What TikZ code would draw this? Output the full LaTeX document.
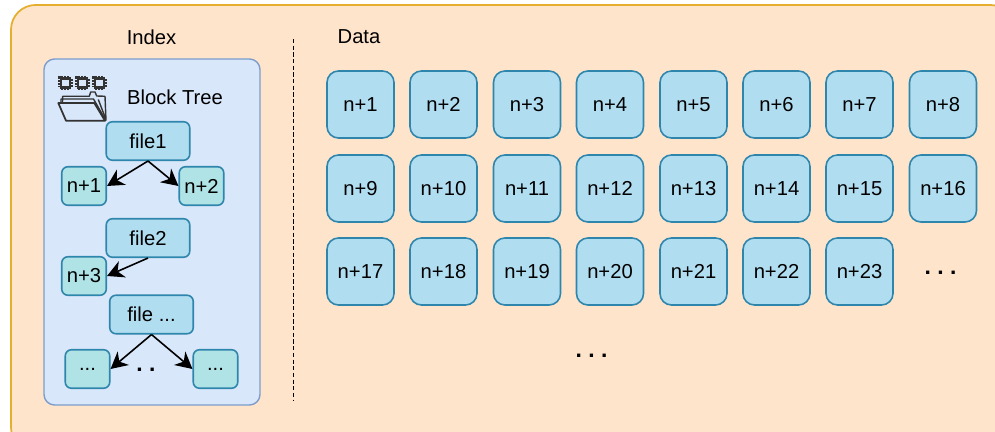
\documentclass[tikz,border=0pt]{standalone}
\usepackage{fontspec}
\usepackage{xcolor}
\setmainfont{Liberation Sans}
\usetikzlibrary{arrows.meta}
\definecolor{outerfill}{HTML}{FFE4CC}
\definecolor{outerline}{HTML}{E6AE2E}
\definecolor{panelfill}{HTML}{D9E7FB}
\definecolor{panelline}{HTML}{7C9CCB}
\definecolor{blockfill}{HTML}{B1DDF1}
\definecolor{blockline}{HTML}{2F86AC}
\definecolor{leaffill}{HTML}{B0E3E6}
\definecolor{iconline}{HTML}{333333}
\frenchspacing
\tikzset{
    txt/.style={font=\fontsize{11.5}{13}\selectfont, inner sep=0pt},
    datablock/.style={txt, draw=blockline, fill=blockfill, line width=0.9pt, rounded corners=6.5pt, minimum width=1.34cm, minimum height=1.34cm},
    filenode/.style={txt, draw=blockline, fill=blockfill, line width=0.9pt, rounded corners=3.5pt, minimum width=1.67cm, minimum height=0.77cm},
    leafnode/.style={txt, draw=blockline, fill=leaffill, line width=0.9pt, rounded corners=3.5pt, minimum width=0.89cm, minimum height=0.77cm},
    dots/.style={font=\bfseries\fontsize{13}{15}\selectfont, inner sep=0pt},
    link/.style={draw=black, line width=0.9pt, -{Stealth[length=9.5pt,width=10pt,inset=3pt]}},
    icon/.style={draw=iconline, line width=0.8pt, line join=round},
    chip/.style={draw=iconline, fill=panelfill, line width=1.2pt, minimum size=0.18cm, inner sep=0pt, preaction={draw=iconline, line width=3.2pt, dash pattern=on 1pt off 0.8pt}}
}
\begin{document}
\begin{tikzpicture}
                \useasboundingbox (0,0) rectangle (19.9,8.64);
                \path [draw=outerline, fill=outerfill, line width=1pt, rounded corners=14pt] (0.22,-0.4) rectangle (20.3,8.54);
                \path [draw=panelline, fill=panelfill, line width=0.8pt, rounded corners=6pt] (0.88,0.54) rectangle (5.2,7.46);
                \node [txt] (indexlabel) at (3.03,7.9) {Index};
                \node [txt] (datalabel) at (7.18,7.9) {Data};
                \node [txt] (treelabel) at (3.5,6.7) {Block Tree};
                \coordinate (sepTop) at (5.87,7.86);
                \coordinate (sepBot) at (5.87,0.62);
                \draw [black, line width=1.1pt, dash pattern=on 2.4pt off 1.4pt] (sepTop) -- (sepBot);
                \node [chip] (chipa) at (1.31,6.98) {};
                \node [chip] (chipb) at (1.65,6.98) {};
                \node [chip] (chipc) at (1.99,6.98) {};
                \draw [icon] (1.25,6.6) -- (1.254,6.714) -- (1.786,6.714) -- (1.814,6.8) -- (1.9,6.8) -- (1.934,6.72) -- (2.1,6.714) -- (2.12,6.226);
                \draw [icon] (1.22,6.58) -- (1.22,6.66) -- (1.87,6.66) -- (2.1,6.26);
                \draw [icon] (1.966,6.65) -- (2.1,6.3);
                \draw [icon, line width=1pt] (1.166,6.58) -- (1.886,6.58) -- (2.1,6.226) -- (1.32,6.226) -- cycle;
                \node [filenode] (file1) at (2.96,5.82) {file1};
                \node [leafnode] (n1) at (1.68,4.92) {n+1};
                \node [leafnode] (n2) at (4.03,4.92) {n+2};
                \node [filenode] (file2) at (2.96,3.88) {file2};
                \node [leafnode] (n3) at (1.68,3.12) {n+3};
                \node [filenode] (fileN) at (3.03,2.35) {file ...};
                \node [leafnode] (leafa) at (1.75,1.26) {...};
                \node [leafnode] (leafb) at (4.31,1.26) {...};
                \node [dots] (treedots) at (2.92,1.24) {. .};
                \draw [link] (file1.south) -- (n1.east);
                \draw [link] (file1.south) -- (n2.west);
                \draw [link] (file2.south) -- (n3.east);
                \draw [link] (fileN.south) -- (leafa.east);
                \draw [link] (fileN.south) -- (leafb.west);
                \node [datablock] (d1) at (7.21,6.55) {n+1};
                \node [datablock] (d2) at (8.87,6.55) {n+2};
                \node [datablock] (d3) at (10.54,6.55) {n+3};
                \node [datablock] (d4) at (12.2,6.55) {n+4};
                \node [datablock] (d5) at (13.87,6.55) {n+5};
                \node [datablock] (d6) at (15.53,6.55) {n+6};
                \node [datablock] (d7) at (17.19,6.55) {n+7};
                \node [datablock] (d8) at (18.86,6.55) {n+8};
                \node [datablock] (d9) at (7.21,4.87) {n+9};
                \node [datablock] (d10) at (8.87,4.87) {n+10};
                \node [datablock] (d11) at (10.54,4.87) {n+11};
                \node [datablock] (d12) at (12.2,4.87) {n+12};
                \node [datablock] (d13) at (13.87,4.87) {n+13};
                \node [datablock] (d14) at (15.53,4.87) {n+14};
                \node [datablock] (d15) at (17.19,4.87) {n+15};
                \node [datablock] (d16) at (18.86,4.87) {n+16};
                \node [datablock] (d17) at (7.21,3.21) {n+17};
                \node [datablock] (d18) at (8.87,3.21) {n+18};
                \node [datablock] (d19) at (10.54,3.21) {n+19};
                \node [datablock] (d20) at (12.2,3.21) {n+20};
                \node [datablock] (d21) at (13.87,3.21) {n+21};
                \node [datablock] (d22) at (15.53,3.21) {n+22};
                \node [datablock] (d23) at (17.19,3.21) {n+23};
                \node [dots] (rowdots) at (18.81,3.19) {. . .};
                \node [dots] (moredots) at (11.83,1.52) {. . .};
            \end{tikzpicture}
\end{document}
